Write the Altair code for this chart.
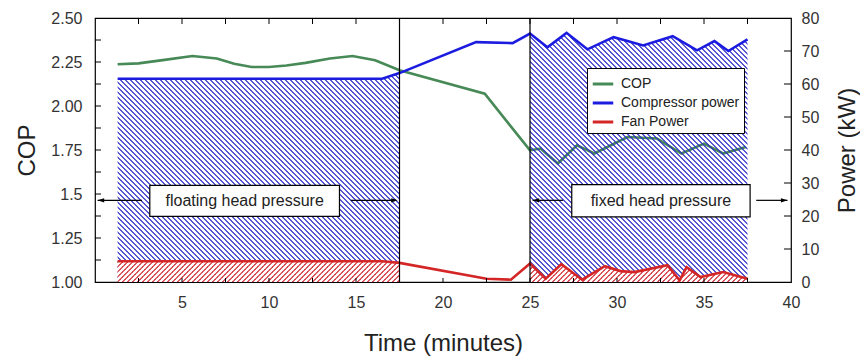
import altair as alt
import pandas as pd

# ---------------- data ----------------
cop_t = [1.3, 2.5, 4.0, 5.6, 7.0, 8.0, 9.0, 10.0, 11.0, 12.1, 13.5, 14.8, 16.1, 17.5,
         22.4, 25.0, 25.6, 26.6, 27.7, 28.7, 30.6, 32.3, 33.7, 35.0, 36.1, 37.4]
cop_v = [2.237, 2.242, 2.262, 2.284, 2.27, 2.24, 2.222, 2.222, 2.23, 2.245, 2.27, 2.284, 2.26, 2.203,
         2.07, 1.748, 1.758, 1.673, 1.777, 1.73, 1.824, 1.815, 1.73, 1.786, 1.73, 1.767]

comp_t = [1.3, 16.5, 17.5, 21.9, 24.0, 25.0, 26.0, 27.1, 28.3, 29.8, 30.5, 31.5, 33.2, 34.6, 35.6, 36.4, 37.5]
comp_v = [61.6, 61.6, 63.3, 72.7, 72.4, 75.3, 71.1, 75.5, 70.5, 74.2, 73.2, 71.7, 74.5, 70.2, 73.0, 70.0, 73.5]

fan_t = [1.3, 16.5, 17.5, 22.5, 23.9, 25.0, 25.9, 26.8, 28.0, 29.3, 30.2, 31.0, 32.9, 33.6, 34.0, 34.8, 36.1, 37.5]
fan_v = [6.3, 6.3, 5.8, 1.0, 0.7, 5.6, 1.0, 5.4, 0.7, 4.8, 3.3, 3.0, 5.1, 0.5, 4.5, 1.5, 3.0, 1.0]

series_names = ["COP", "Compressor power", "Fan Power"]
series_colors = ["#478a57", "#1c1ce0", "#d42626"]

divider_t = [17.5, 25.0]           # floating / fixed head pressure boundaries
floating_range = [1.3, 17.5]
fixed_range = [25.0, 37.5]

box_labels = ["floating head pressure", "fixed head pressure"]
box_t1 = [3.15, 27.4]
box_t2 = [14.05, 37.65]
box_v1 = [1.373, 1.370]
box_v2 = [1.549, 1.553]
label_v = [1.462, 1.462]

arrow_t1 = [0.15, 14.7, 25.15, 38.0]
arrow_t2 = [2.7, 17.3, 26.9, 39.8]
arrow_v = [1.464, 1.464, 1.464, 1.464]
head_t = [0.15, 17.4, 25.15, 39.8]
head_dir = ["left", "right", "left", "right"]

x_label_values = [5, 10, 15, 20, 25, 30, 35, 40]
x_tick_values = [2.5, 5, 7.5, 10, 12.5, 15, 17.5, 20, 22.5, 25, 27.5, 30, 32.5, 35, 37.5]
cop_label_values = [1.0, 1.25, 1.5, 1.75, 2.0, 2.25, 2.5]
cop_tick_values = [1.125, 1.25, 1.375, 1.5, 1.625, 1.75, 1.875, 2.0, 2.125, 2.25, 2.375]
pow_label_values = [0, 10, 20, 30, 40, 50, 60, 70, 80]
pow_tick_values = [10, 20, 30, 40, 50, 60, 70]

# ---------------- layout / style ----------------
W, H = 696, 264
PX_T = W / 40.0
PX_KW = H / 80.0
FONT = "Liberation Sans"

cop_df = pd.DataFrame({"t": cop_t, "v": cop_v, "series": "COP"})
comp_df = pd.DataFrame({"t": comp_t, "v": comp_v, "series": "Compressor power"})
fan_df = pd.DataFrame({"t": fan_t, "v": fan_v, "series": "Fan Power"})
power_df = pd.concat([comp_df, fan_df], ignore_index=True)

box_df = pd.DataFrame({"t": box_t1, "t2": box_t2, "v": box_v1, "v2": box_v2,
                       "tc": [(a + b) / 2 for a, b in zip(box_t1, box_t2)],
                       "vc": label_v, "label": box_labels})
arrow_df = pd.DataFrame({"t": arrow_t1, "t2": arrow_t2, "v": arrow_v})
head_df = pd.DataFrame({"t": head_t, "v": arrow_v, "dir": head_dir})
div_df = pd.DataFrame({"t": divider_t})
xt_df = pd.DataFrame({"t": x_tick_values})
ct_df = pd.DataFrame({"v": cop_tick_values})
pt_df = pd.DataFrame({"v": pow_tick_values})

x_scale = alt.Scale(domain=[0, 40], nice=False, zero=False)
cop_scale = alt.Scale(domain=[1.0, 2.5], nice=False, zero=False)
pow_scale = alt.Scale(domain=[0, 80], nice=False, zero=False)

x_axis = alt.Axis(values=x_label_values, title="Time (minutes)", ticks=False, domain=False, grid=False,
                  labelFontSize=16, labelPadding=12, labelFlush=False,
                  titleFontSize=24, titleFontWeight="normal", titleX=W / 2, titleY=61,
                  titleAlign="center", titleBaseline="middle")
left_axis = alt.Axis(orient="left", values=cop_label_values,
                     labelExpr="datum.value == 1.5 ? '1.5' : format(datum.value, '.2f')",
                     title="COP", ticks=False, domain=False, grid=False,
                     labelFontSize=16, labelPadding=13,
                     titleFontSize=24, titleFontWeight="normal", titleAngle=270,
                     titleX=-68, titleY=H / 2, titleAlign="center", titleBaseline="middle")
right_axis = alt.Axis(orient="right", values=pow_label_values, title="Power (kW)",
                      ticks=False, domain=False, grid=False,
                      labelFontSize=16, labelPadding=10,
                      titleFontSize=24, titleFontWeight="normal", titleAngle=270,
                      titleX=56, titleY=H / 2, titleAlign="center", titleBaseline="middle")

X = alt.X("t:Q", scale=x_scale, axis=x_axis)
color_enc = alt.Color("series:N",
                      scale=alt.Scale(domain=series_names, range=series_colors),
                      legend=alt.Legend(title=None, orient="none", legendX=492, legendY=50,
                                        fillColor="white", strokeColor="black", padding=4,
                                        symbolType="stroke", symbolSize=420, symbolStrokeWidth=3,
                                        labelFontSize=14, labelFont=FONT, labelColor="#222",
                                        rowPadding=0, labelOffset=6))


def hatch(w_px, h_px, color, gap, period, duty, back):
    """Diagonal stripes as a hard-stop linear gradient in the mark's bounding box.
    In pixel terms t = (x + y) / (w + h) (or (w - x + y)/(w + h)), so a fixed
    horizontal period in pixels is a fixed step in t."""
    a = w_px / h_px
    s = (a + 1) / (a * a + 1)
    dt = period / (w_px + h_px)
    stops = []
    o = 0.0
    while o < 1.0:
        o1 = min(1.0, o + duty * dt)
        o2 = min(1.0, o + dt)
        stops += [alt.GradientStop(color=color, offset=o), alt.GradientStop(color=color, offset=o1),
                  alt.GradientStop(color=gap, offset=o1), alt.GradientStop(color=gap, offset=o2)]
        o = o2
    if back:
        return alt.LinearGradient(gradient="linear", stops=stops, x1=1, y1=0, x2=1 - s * a, y2=s)
    return alt.LinearGradient(gradient="linear", stops=stops, x1=0, y1=0, x2=s * a, y2=s)


def seg_area(df, rng, color, gap, back, duty):
    sub = df[(df.t >= rng[0]) & (df.t <= rng[1])]
    w_px = (rng[1] - rng[0]) * PX_T
    h_px = max(sub.v) * PX_KW
    return alt.Chart(df).mark_area(
        fill=hatch(w_px, h_px, color, gap, 5.0, duty, back), strokeWidth=0
    ).encode(
        x=X, y=alt.Y("v:Q", scale=pow_scale, axis=right_axis)
    ).transform_filter(
        (alt.datum.t >= rng[0]) & (alt.datum.t <= rng[1])
    )


blue_hatch = "rgba(45,45,200,0.8)"
red_hatch = "rgba(225,70,70,0.85)"

cop_layer = alt.Chart(cop_df).mark_line(strokeWidth=2.6).encode(
    x=X, y=alt.Y("v:Q", scale=cop_scale, axis=left_axis), color=color_enc)

power_layer = alt.layer(
    seg_area(comp_df, floating_range, blue_hatch, "rgba(255,255,255,0)", True, 0.42),
    seg_area(comp_df, fixed_range, blue_hatch, "rgba(255,255,255,0)", True, 0.42),
    seg_area(fan_df, floating_range, red_hatch, "white", False, 0.42),
    seg_area(fan_df, fixed_range, red_hatch, "white", False, 0.42),
    alt.Chart(power_df).mark_line(strokeWidth=2.6).encode(
        x=X, y=alt.Y("v:Q", scale=pow_scale, axis=right_axis), color=color_enc),
    alt.Chart(pt_df).mark_rule(color="black", strokeWidth=1).encode(
        y=alt.Y("v:Q", scale=pow_scale, axis=right_axis), x=alt.value(W), x2=alt.value(W - 7)),
)

YA = alt.Y("v:Q", scale=cop_scale, axis=None)
annot_layer = alt.layer(
    alt.Chart(div_df).mark_rule(color="black", strokeWidth=1.2).encode(x=X),
    alt.Chart(xt_df).mark_rule(color="black", strokeWidth=1).encode(
        x=X, y=alt.value(H), y2=alt.value(H - 4)),
    alt.Chart(xt_df).mark_rule(color="black", strokeWidth=1).encode(
        x=X, y=alt.value(0), y2=alt.value(6)),
    alt.Chart(ct_df).mark_rule(color="black", strokeWidth=1).encode(
        y=YA, x=alt.value(0), x2=alt.value(6)),
    alt.Chart(arrow_df).mark_rule(color="black", strokeWidth=1.2).encode(
        x=X, x2="t2:Q", y=YA),
    alt.Chart(head_df).mark_point(shape="M0,0L2.2,-0.7L2.2,0.7Z", filled=True, color="black",
                                  size=36, opacity=1).encode(x=X, y=YA).transform_filter(
        alt.datum.dir == "left"),
    alt.Chart(head_df).mark_point(shape="M0,0L-2.2,-0.7L-2.2,0.7Z", filled=True, color="black",
                                  size=36, opacity=1).encode(x=X, y=YA).transform_filter(
        alt.datum.dir == "right"),
    alt.Chart(box_df).mark_rect(fill="white", stroke="black", strokeWidth=1.2).encode(
        x=X, x2="t2:Q", y=YA, y2="v2:Q"),
    alt.Chart(box_df).mark_text(font=FONT, fontSize=16, color="#222").encode(
        x=alt.X("tc:Q", scale=x_scale, axis=x_axis), y=alt.Y("vc:Q", scale=cop_scale, axis=None),
        text="label:N"),
)

chart = alt.layer(cop_layer, power_layer, annot_layer).resolve_scale(
    y="independent"
).properties(
    width=W, height=H,
    autosize=alt.AutoSizeParams(type="none"),
    padding={"left": 95, "top": 18, "right": 69, "bottom": 75},
).configure_view(
    stroke="black", strokeWidth=1.2
).configure_axis(
    labelFont=FONT, titleFont=FONT, labelColor="#333", titleColor="#222"
)

chart.save("out.html", embed_options={"renderer": "svg", "actions": False})
